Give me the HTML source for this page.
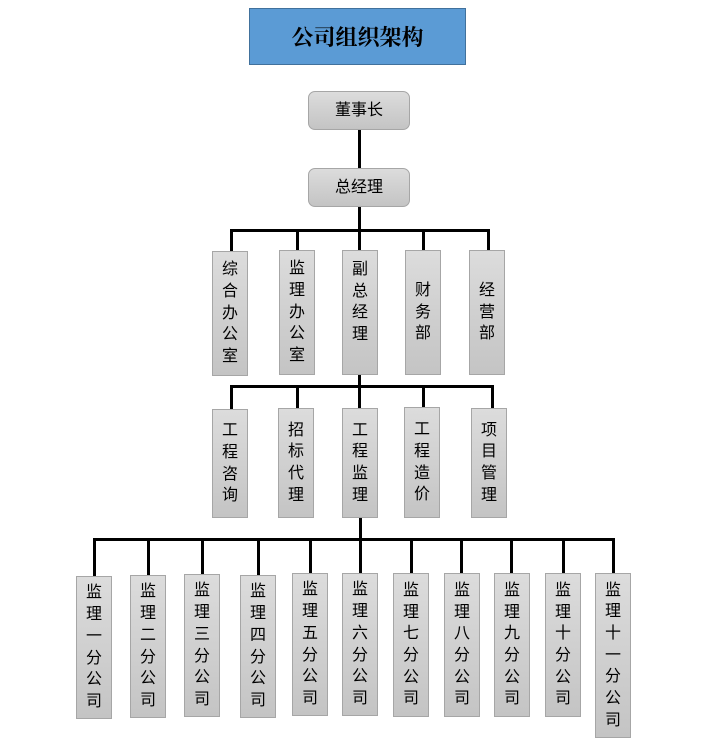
<!DOCTYPE html>
<html><head><meta charset="utf-8"><style>
body{margin:0;width:701px;height:756px;background:#fff;position:relative;overflow:hidden;font-family:"Liberation Sans","Noto Sans CJK SC","WenQuanYi Zen Hei",sans-serif;}
.b{position:absolute;box-sizing:border-box;border:1px solid #a6a6a6;background:linear-gradient(#dcdcdc,#c4c4c4);display:flex;align-items:center;justify-content:center;text-align:center;font-size:16px;line-height:21.7px;color:#000;}
.r{border-radius:7px;}
.l{position:absolute;background:#000;}
</style></head><body>
<div style="position:absolute;left:249px;top:8px;width:217px;height:57px;box-sizing:border-box;background:#5b9bd5;border:1px solid #41719c;display:flex;align-items:center;justify-content:center;font-family:'Liberation Serif','Noto Serif CJK SC',serif;font-weight:bold;font-size:22px;">公司组织架构</div>

<div class="b r" style="left:308px;top:91px;width:102px;height:39px;">董事长</div>
<div class="b r" style="left:308px;top:168px;width:102px;height:39px;">总经理</div>
<div class="l" style="left:358px;top:130px;width:3px;height:38px;"></div>
<div class="l" style="left:358px;top:207px;width:3px;height:23px;"></div>

<!-- row2 -->
<div class="l" style="left:230px;top:229px;width:260px;height:3px;"></div>
<div class="l" style="left:230px;top:229px;width:3px;height:22px;"></div>
<div class="l" style="left:296px;top:229px;width:3px;height:22px;"></div>
<div class="l" style="left:358px;top:229px;width:3px;height:22px;"></div>
<div class="l" style="left:422px;top:229px;width:3px;height:22px;"></div>
<div class="l" style="left:487px;top:229px;width:3px;height:22px;"></div>
<div class="b" style="left:212px;top:251px;width:36px;height:125px;">综<br>合<br>办<br>公<br>室</div>
<div class="b" style="left:279px;top:250px;width:36px;height:125px;">监<br>理<br>办<br>公<br>室</div>
<div class="b" style="left:342px;top:250px;width:36px;height:125px;align-items:flex-start;padding-top:8px;">副<br>总<br>经<br>理</div>
<div class="b" style="left:405px;top:250px;width:36px;height:125px;">财<br>务<br>部</div>
<div class="b" style="left:469px;top:250px;width:36px;height:125px;">经<br>营<br>部</div>

<!-- row3 -->
<div class="l" style="left:358px;top:375px;width:3px;height:12px;"></div>
<div class="l" style="left:230px;top:385px;width:264px;height:3px;"></div>
<div class="l" style="left:230px;top:385px;width:3px;height:24px;"></div>
<div class="l" style="left:296px;top:385px;width:3px;height:24px;"></div>
<div class="l" style="left:358px;top:385px;width:3px;height:24px;"></div>
<div class="l" style="left:422px;top:385px;width:3px;height:24px;"></div>
<div class="l" style="left:491px;top:385px;width:3px;height:24px;"></div>
<div class="b" style="left:212px;top:409px;width:36px;height:109px;">工<br>程<br>咨<br>询</div>
<div class="b" style="left:278px;top:408px;width:36px;height:110px;">招<br>标<br>代<br>理</div>
<div class="b" style="left:342px;top:408px;width:36px;height:110px;">工<br>程<br>监<br>理</div>
<div class="b" style="left:404px;top:407px;width:36px;height:111px;">工<br>程<br>造<br>价</div>
<div class="b" style="left:471px;top:408px;width:36px;height:110px;">项<br>目<br>管<br>理</div>

<!-- row4 -->
<div class="l" style="left:359px;top:518px;width:3px;height:22px;"></div>
<div class="l" style="left:93px;top:538px;width:522px;height:3px;"></div>
<div class="l" style="left:93px;top:538px;width:3px;height:38px;"></div>
<div class="l" style="left:147px;top:538px;width:3px;height:37px;"></div>
<div class="l" style="left:201px;top:538px;width:3px;height:36px;"></div>
<div class="l" style="left:257px;top:538px;width:3px;height:37px;"></div>
<div class="l" style="left:309px;top:538px;width:3px;height:35px;"></div>
<div class="l" style="left:359px;top:538px;width:3px;height:35px;"></div>
<div class="l" style="left:410px;top:538px;width:3px;height:35px;"></div>
<div class="l" style="left:460px;top:538px;width:3px;height:35px;"></div>
<div class="l" style="left:510px;top:538px;width:3px;height:35px;"></div>
<div class="l" style="left:562px;top:538px;width:3px;height:35px;"></div>
<div class="l" style="left:612px;top:538px;width:3px;height:35px;"></div>
<div class="b" style="left:76px;top:576px;width:36px;height:143px;">监<br>理<br>一<br>分<br>公<br>司</div>
<div class="b" style="left:130px;top:575px;width:36px;height:143px;">监<br>理<br>二<br>分<br>公<br>司</div>
<div class="b" style="left:184px;top:574px;width:36px;height:143px;">监<br>理<br>三<br>分<br>公<br>司</div>
<div class="b" style="left:240px;top:575px;width:36px;height:143px;">监<br>理<br>四<br>分<br>公<br>司</div>
<div class="b" style="left:292px;top:573px;width:36px;height:143px;">监<br>理<br>五<br>分<br>公<br>司</div>
<div class="b" style="left:342px;top:573px;width:36px;height:143px;">监<br>理<br>六<br>分<br>公<br>司</div>
<div class="b" style="left:393px;top:573px;width:36px;height:144px;">监<br>理<br>七<br>分<br>公<br>司</div>
<div class="b" style="left:444px;top:573px;width:36px;height:144px;">监<br>理<br>八<br>分<br>公<br>司</div>
<div class="b" style="left:494px;top:573px;width:36px;height:144px;">监<br>理<br>九<br>分<br>公<br>司</div>
<div class="b" style="left:545px;top:573px;width:36px;height:144px;">监<br>理<br>十<br>分<br>公<br>司</div>
<div class="b" style="left:595px;top:573px;width:36px;height:165px;">监<br>理<br>十<br>一<br>分<br>公<br>司</div>
</body></html>
